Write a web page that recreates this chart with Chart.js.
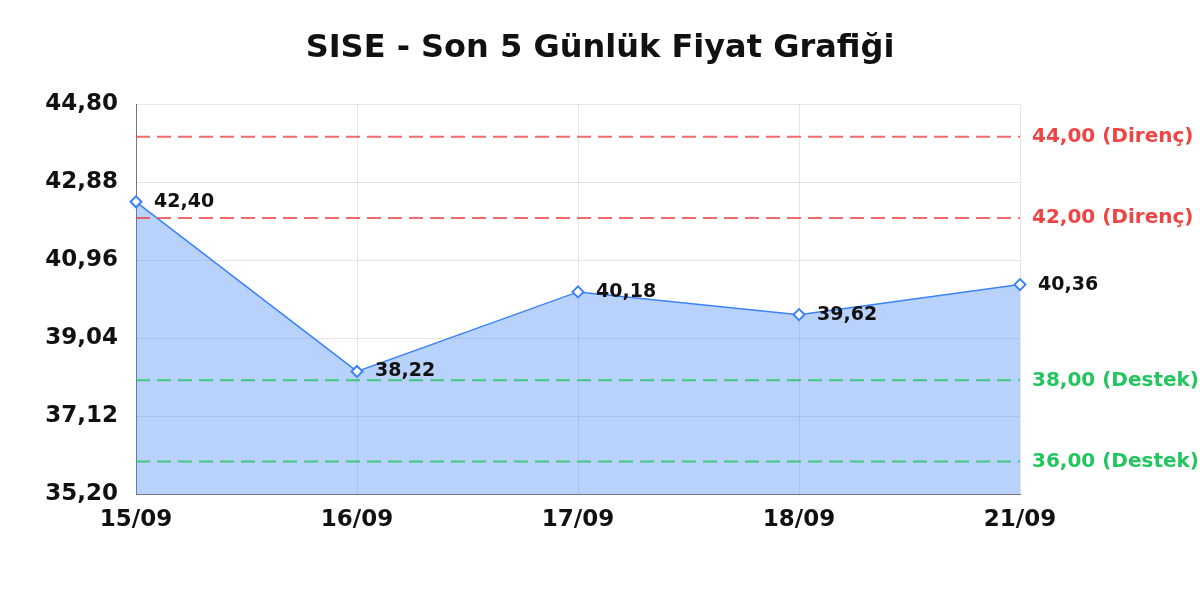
<!DOCTYPE html>
<html>
<head>
<meta charset="utf-8">
<script src="https://cdn.jsdelivr.net/npm/chart.js@4.4.0/dist/chart.umd.min.js"></script>
<style>
html,body{margin:0;padding:0;background:#fff;}
#wrap{width:1200px;height:600px;position:relative;}
</style>
</head>
<body>
<div id="wrap"><canvas id="c" width="1200" height="600"></canvas></div>
<script>
const titleText = 'SISE - Son 5 Günlük Fiyat Grafiği';
const dates = ['15/09', '16/09', '17/09', '18/09', '21/09'];
const prices = [42.40, 38.22, 40.18, 39.62, 40.36];
const yTicks = [35.20, 37.12, 39.04, 40.96, 42.88, 44.80];
const resistanceLevels = [44.00, 42.00];
const supportLevels = [38.00, 36.00];
const resistanceLabel = 'Direnç';
const supportLabel = 'Destek';

const FONT = '"DejaVu Sans", sans-serif';
const fmt = v => v.toFixed(2).replace('.', ',');

const levelPlugin = {
  id: 'levels',
  afterDatasetsDraw(chart) {
    const {ctx, chartArea, scales} = chart;
    const y = scales.y;
    const draw = (levels, color) => {
      levels.forEach(v => {
        const py = y.getPixelForValue(v);
        ctx.save();
        ctx.strokeStyle = color;
        ctx.lineWidth = 2;
        ctx.setLineDash([14, 7]);
        ctx.beginPath();
        ctx.moveTo(chartArea.left, py);
        ctx.lineTo(chartArea.right, py);
        ctx.stroke();
        ctx.restore();
      });
    };
    draw(resistanceLevels, 'rgba(239,68,68,0.8)');
    draw(supportLevels, 'rgba(34,197,94,0.8)');
  },
  afterDraw(chart) {
    const {ctx, chartArea, scales} = chart;
    const y = scales.y;
    ctx.save();
    ctx.font = "bold 20px " + FONT;
    ctx.textAlign = 'left';
    ctx.textBaseline = 'middle';
    resistanceLevels.forEach(v => {
      ctx.fillStyle = '#ef4444';
      ctx.fillText(fmt(v) + ' (' + resistanceLabel + ')', chartArea.right + 12, y.getPixelForValue(v));
    });
    supportLevels.forEach(v => {
      ctx.fillStyle = '#22c55e';
      ctx.fillText(fmt(v) + ' (' + supportLabel + ')', chartArea.right + 12, y.getPixelForValue(v));
    });
    const meta = chart.getDatasetMeta(0);
    ctx.fillStyle = '#111';
    ctx.font = "bold 19px " + FONT;
    meta.data.forEach((pt, i) => {
      ctx.fillText(fmt(prices[i]), pt.x + 18, pt.y);
    });
    ctx.restore();
  }
};

new Chart(document.getElementById('c'), {
  type: 'line',
  data: {
    labels: dates,
    datasets: [{
      data: prices,
      borderColor: '#3b82f6',
      borderWidth: 1.5,
      backgroundColor: 'rgba(59,130,246,0.36)',
      fill: 'start',
      tension: 0,
      pointStyle: 'rectRot',
      pointRadius: 5.5,
      pointBorderWidth: 2,
      pointBackgroundColor: '#ffffff',
      pointBorderColor: '#3b82f6',
      clip: false
    }]
  },
  options: {
    responsive: false,
    animation: false,
    layout: { padding: { left: 0, right: 0, top: 0, bottom: 60 } },
    plugins: {
      legend: { display: false },
      tooltip: { enabled: false },
      title: {
        display: true,
        text: titleText,
        color: '#111',
        font: { family: FONT, size: 32, weight: 'bold' },
        padding: { top: 29, bottom: 37 }
      }
    },
    scales: {
      x: {
        offset: false,
        grid: { color: 'rgba(0,0,0,0.1)', drawTicks: false },
        border: { color: '#777', width: 1 },
        ticks: { color: '#111', font: { family: FONT, size: 23, weight: 'bold' }, padding: 12, maxRotation: 0 },
        afterFit(s) { s.height = 46; }
      },
      y: {
        min: yTicks[0],
        max: yTicks[yTicks.length - 1],
        afterBuildTicks(s) { s.ticks = yTicks.map(v => ({ value: v })); },
        grid: { color: 'rgba(0,0,0,0.1)', drawTicks: false },
        border: { color: '#777', width: 1 },
        ticks: {
          color: '#111',
          font: { family: FONT, size: 23, weight: 'bold' },
          padding: 18,
          callback: v => fmt(v)
        },
        afterFit(s) { s.width = 136; }
      },
      yRight: {
        position: 'right',
        display: true,
        min: yTicks[0],
        max: yTicks[yTicks.length - 1],
        grid: { display: false, drawTicks: false },
        border: { display: false },
        ticks: { display: false },
        afterFit(s) { s.width = 180; }
      }
    }
  },
  plugins: [levelPlugin]
});
</script>
</body>
</html>
